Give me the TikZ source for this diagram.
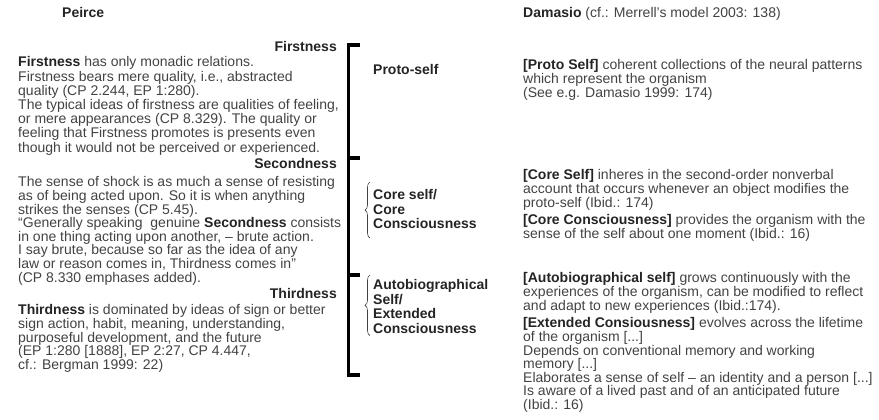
\documentclass[tikz,border=0pt]{standalone}
\usepackage{fontspec}
\setmainfont{Liberation Sans}
\usetikzlibrary{positioning,decorations.pathreplacing}
\definecolor{txtgray}{RGB}{66,66,66}
\definecolor{headgray}{RGB}{36,36,36}
\newcommand{\kw}[1]{{\bfseries\color{headgray}#1}}
\tikzset{
  txt/.style={align=left, anchor=north west, inner sep=0pt, text=txtgray,
              font=\fontsize{14}{13.6}\selectfont},
  hd/.style={inner sep=0pt, text=headgray, font=\fontsize{14}{14}\selectfont\bfseries},
  lbl/.style={hd, align=left, anchor=north west,
              font=\fontsize{14}{14.5}\selectfont\bfseries},
  bar/.style={line width=3.5pt, black},
  brc/.style={decorate, decoration={brace, amplitude=5pt}, txtgray, semithick}
}
\begin{document}
\begin{tikzpicture}[x=1pt, y=-1pt]
  \useasboundingbox (0,0) rectangle (879,420);
  % column heads
  \node[hd, anchor=base west] (peirce) at (62,18) {Peirce};
  \node[hd, anchor=base west] (damasio) at (523,18)
    {Damasio \textcolor{txtgray}{\mdseries (cf.: Merrell’s model 2003: 138)}};
  % Peirce side
  \node[hd, anchor=base east] (first) at (337,52) {Firstness};
  \node[txt, font=\fontsize{14}{14.2}\selectfont] (firsttxt) at (18,56.5)
    {\kw{Firstness} has only monadic relations.\\
     Firstness bears mere quality, i.e., abstracted\\
     quality (CP 2.244, EP 1:280).\\
     The typical ideas of firstness are qualities of feeling,\\
     or mere appearances (CP 8.329). The quality or\\
     feeling that Firstness promotes is presents even\\
     though it would not be perceived or experienced.};
  \node[hd, anchor=base east] (second) at (337,168) {Secondness};
  \node[txt] (secondtxt) at (18,176.5)
    {The sense of shock is as much a sense of resisting\\
     as of being acted upon. So it is when anything\\
     strikes the senses (CP 5.45).\\
     “Generally speaking\ \ genuine \kw{Secondness} consists\\
     in one thing acting upon another, – brute action.\\
     I say brute, because so far as the idea of any\\
     law or reason comes in, Thirdness comes in”\\
     (CP 8.330 emphases added).};
  \node[hd, anchor=base east] (third) at (337,298) {Thirdness};
  \node[txt] (thirdtxt) at (18,304.5)
    {\kw{Thirdness} is dominated by ideas of sign or better\\
     sign action, habit, meaning, understanding,\\
     purposeful development, and the future\\
     (EP 1:280 [1888], EP 2:27, CP 4.447,\\
     cf.: Bergman 1999: 22)};
  % the big bracket
  \coordinate (btop) at (348.5,45);
  \coordinate (bmid1) at (348.5,158);
  \coordinate (bmid2) at (348.5,275);
  \coordinate (bbot) at (348.5,375);
  \draw[bar] ([xshift=11pt]btop) -- (btop) -- (bbot) -- ([xshift=11pt]bbot);
  \draw[bar] (bmid1) -- ++(11,0);
  \draw[bar] (bmid2) -- ++(11,0);
  % Damasio side labels
  \node[hd, anchor=base west] (proto) at (373,75) {Proto-self};
  \node[lbl] (core) at (373,189.5) {Core self/\\Core\\Consciousness};
  \node[lbl] (auto) at (373,279.5) {Autobiographical\\Self/\\Extended\\Consciousness};
  \draw[brc] ([shift={(-3,9)}]core.south west) -- ([shift={(-3,-7.5)}]core.north west);
  \draw[brc] ([shift={(-3,2)}]auto.south west) -- ([shift={(-3,-4.5)}]auto.north west);
  % Damasio side texts
  \node[txt] (prototxt) at (523,59.5)
    {\kw{[Proto Self]} coherent collections of the neural patterns\\
     which represent the organism\\
     (See e.g. Damasio 1999: 174)};
  \node[txt] (coretxt) at (523,169.5)
    {\kw{[Core Self]} inheres in the second-order nonverbal\\
     account that occurs whenever an object modifies the\\
     proto-self (Ibid.: 174)};
  \node[txt] (consctxt) at (523,214.5)
    {\kw{[Core Consciousness]} provides the organism with the\\
     sense of the self about one moment (Ibid.: 16)};
  \node[txt] (autotxt) at (523,272.5)
    {\kw{[Autobiographical self]} grows continuously with the\\
     experiences of the organism, can be modified to reflect\\
     and adapt to new experiences (Ibid.:174).};
  \node[txt] (exttxt) at (523,317.5)
    {\kw{[Extended Consiousness]} evolves across the lifetime\\
     of the organism [...]\\
     Depends on conventional memory and working\\
     memory [...]\\
     Elaborates a sense of self – an identity and a person [...]\\
     Is aware of a lived past and of an anticipated future\\
     (Ibid.: 16)};
\end{tikzpicture}
\end{document}
